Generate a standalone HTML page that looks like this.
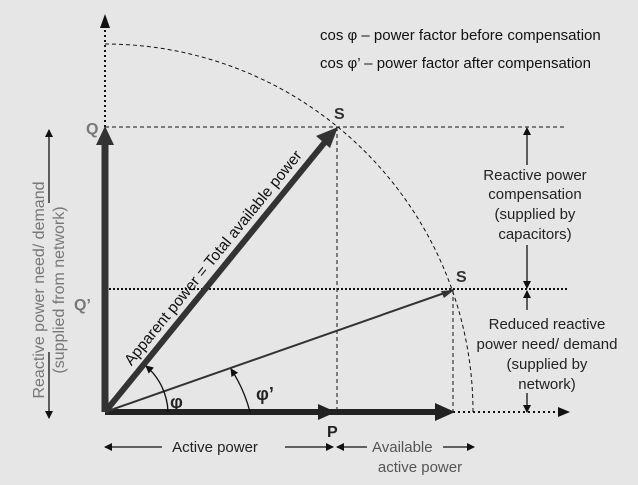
<!DOCTYPE html><html><head><style>body{margin:0;background:#e6e6e6}svg{display:block;font-family:"Liberation Sans",sans-serif}</style></head><body>
<svg width="638" height="485" viewBox="0 0 638 485">
<defs>
<marker id="a" markerWidth="8" markerHeight="8" refX="7" refY="4" orient="auto" markerUnits="userSpaceOnUse"><path d="M0,0L8,4L0,8z" fill="#111"/></marker>
</defs>
<rect width="638" height="485" fill="#e6e6e6"/>
<line x1="105" y1="127" x2="105" y2="22" stroke="#111" stroke-width="2" stroke-dasharray="2,3"/>
<path d="M100,28L105,14L110,28z" fill="#111"/>
<path d="M105,44 A368,368 0 0 1 473,412" fill="none" stroke="#111" stroke-width="1" stroke-dasharray="4,3"/>
<line x1="105" y1="127" x2="567" y2="127" stroke="#111" stroke-dasharray="4,3"/>
<line x1="337" y1="127" x2="337" y2="412" stroke="#111" stroke-dasharray="4,3"/>
<line x1="453" y1="290" x2="453" y2="412" stroke="#111" stroke-dasharray="4,3"/>
<line x1="105" y1="289" x2="567" y2="289" stroke="#111" stroke-width="2" stroke-dasharray="2,2"/>
<line x1="453" y1="412" x2="560" y2="412" stroke="#111" stroke-width="2" stroke-dasharray="2,3"/>
<path d="M558,407L570,412L558,417z" fill="#111"/>
<line x1="105" y1="412" x2="105" y2="145" stroke="#333" stroke-width="7"/>
<path d="M96,145L105,126L114,145z" fill="#333"/>
<line x1="105" y1="412" x2="440" y2="412" stroke="#222" stroke-width="6"/>
<path d="M318,404L336,412L318,420z" fill="#222"/>
<path d="M435,403L455,412L435,421z" fill="#222"/>
<line x1="105" y1="412" x2="325" y2="142" stroke="#333" stroke-width="6"/>
<path d="M316,136L338,127L330,148z" fill="#333"/>
<line x1="105" y1="412" x2="453" y2="290" stroke="#333" stroke-width="2"/>
<path d="M441,291L454,290L444,298z" fill="#333"/>
<path d="M168,412 A63,63 0 0 0 146,366" fill="none" stroke="#111" stroke-width="1.3" marker-end="url(#a)"/>
<path d="M250,412 A145,145 0 0 0 231,369" fill="none" stroke="#111" stroke-width="1.3" marker-end="url(#a)"/>
<text x="170" y="408" font-size="18" font-weight="bold" fill="#222">φ</text>
<text x="256" y="400" font-size="18" font-weight="bold" fill="#222">φ’</text>
<text x="86" y="134" font-size="16" font-weight="bold" fill="#777">Q</text>
<text x="74" y="310" font-size="16" font-weight="bold" fill="#777">Q’</text>
<text x="334" y="119" font-size="16" font-weight="bold" fill="#333">S</text>
<text x="456" y="282" font-size="16" font-weight="bold" fill="#333">S</text>
<text x="327" y="437" font-size="16" font-weight="bold" fill="#222">P</text>
<text x="320" y="40" font-size="15" fill="#111">cos φ – power factor before compensation</text>
<text x="320" y="68" font-size="15" fill="#111">cos φ’ – power factor after compensation</text>
<text transform="translate(217,261) rotate(-50.9)" text-anchor="middle" font-size="15.5" fill="#111">Apparent power = Total available power</text>
<g font-size="15" fill="#222" text-anchor="middle">
<text x="535" y="180">Reactive power</text><text x="535" y="199">compensation</text><text x="535" y="219">(supplied by</text><text x="535" y="239">capacitors)</text>
<text x="547" y="329">Reduced reactive</text><text x="547" y="349">power need/ demand</text><text x="547" y="369">(supplied by</text><text x="547" y="389">network)</text>
<text x="215" y="452">Active power</text>
<text x="372" y="452" fill="#555" text-anchor="start">Available</text><text x="420" y="472" fill="#555">active power</text>
</g>
<g font-size="16" fill="#777" text-anchor="middle">
<text transform="translate(44,290) rotate(-90)">Reactive power need/ demand</text>
<text transform="translate(64,290) rotate(-90)">(supplied from network)</text>
</g>
<g stroke="#111" stroke-width="1.3" fill="none" marker-end="url(#a)">
<line x1="49" y1="203" x2="49" y2="130"/>
<line x1="49" y1="352" x2="49" y2="418"/>
<line x1="527" y1="165" x2="527" y2="128"/>
<line x1="527" y1="245" x2="527" y2="288"/>
<line x1="527" y1="310" x2="527" y2="291"/>
<line x1="527" y1="393" x2="527" y2="412"/>
<line x1="162" y1="447" x2="105" y2="447"/>
<line x1="285" y1="447" x2="333" y2="447"/>
<line x1="367" y1="447" x2="337" y2="447"/>
<line x1="443" y1="447" x2="474" y2="447"/>
</g>
</svg></body></html>
